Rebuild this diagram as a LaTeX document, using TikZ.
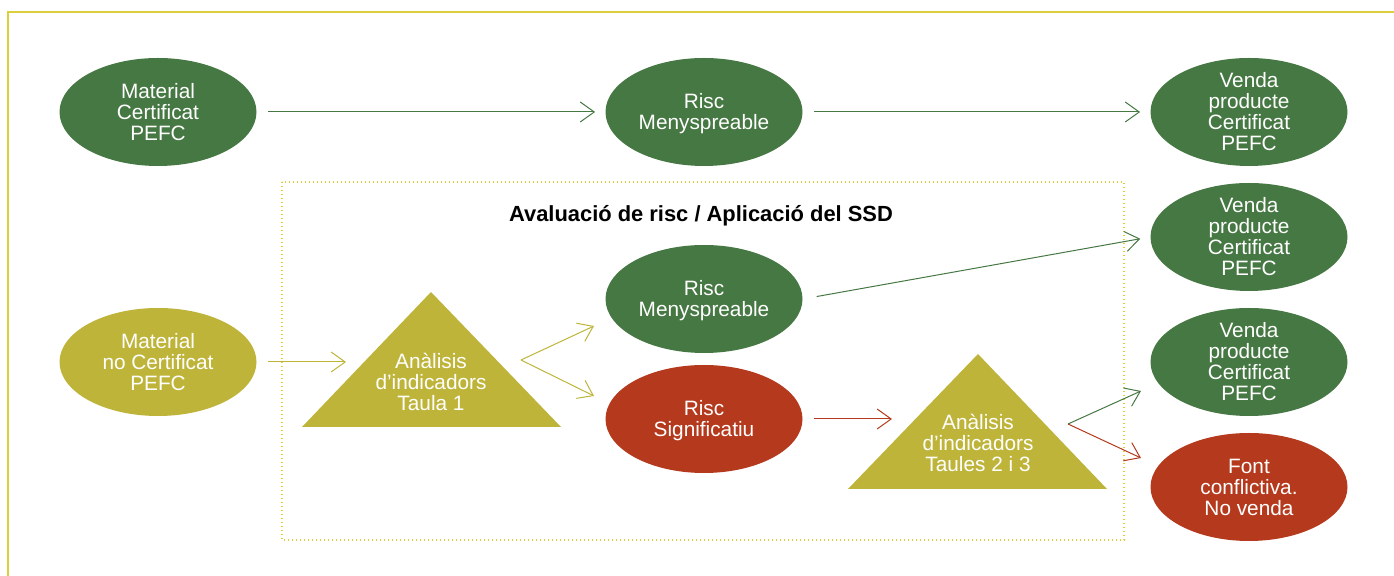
\documentclass[tikz,border=0pt]{standalone}
\usepackage{fontspec}
\setmainfont{Liberation Sans}
\usetikzlibrary{arrows.meta,shapes.geometric}
\definecolor{verd}{HTML}{467843}
\definecolor{oliva}{HTML}{BFB43A}
\definecolor{vermell}{HTML}{B5391C}
\definecolor{groc}{HTML}{DCCF3C}
\begin{document}
\begin{tikzpicture}[x=0.5pt, y=-0.5pt,
  >={Straight Barb[length=7pt,width=10pt]},
  oval/.style={ellipse, minimum width=98.5pt, minimum height=54pt, inner sep=0pt},
  text oval/.style={text=white, align=center, font=\fontsize{10.4}{10.5}\selectfont},
  fletxa/.style={->, line width=0.5pt}]
\useasboundingbox (0,0) rectangle (1394,576);
% marc exterior
\draw[groc, line width=0.6pt] (8,576) -- (8,12) -- (1394,12);

% fila superior: material certificat
\node[oval, fill=verd, label={[text oval]center:Material\\Certificat\\PEFC}] (mc) at (158,112) {};
\node[oval, fill=verd, label={[text oval, yshift=-1pt]center:Risc\\Menyspreable}] (rm1) at (704,112) {};
\node[oval, fill=verd, label={[text oval]center:Venda\\producte\\Certificat\\PEFC}] (v1) at (1249,112) {};
\draw[fletxa, verd, shorten <=5.5pt, shorten >=5pt] (mc) -- (rm1);
\draw[fletxa, verd, shorten <=5.5pt, shorten >=5pt] (rm1) -- (v1);

% avaluacio de risc
\draw[groc, line width=0.7pt, dash pattern=on 0.7pt off 1.3pt] (282,182) rectangle (1124,540);
\node[font=\bfseries\fontsize{10.95}{12}\selectfont] (titol) at (701,216) {Avaluació de risc / Aplicació del SSD};

\node[oval, fill=oliva, label={[text oval]center:Material\\no Certificat\\PEFC}] (mnc) at (158,362) {};
\fill[oliva] (302,427) -- (431,292) -- (561,427) -- cycle;
\node[text oval] (t1) at (431,382) {Anàlisis\\d’indicadors\\Taula 1};
\node[oval, fill=verd, label={[text oval, yshift=-1pt]center:Risc\\Menyspreable}] (rm2) at (704,299) {};
\node[oval, fill=vermell, label={[text oval, yshift=-1pt]center:Risc\\Significatiu}] (rs) at (704,419) {};
\fill[oliva] (848,489) -- (978,354) -- (1107,489) -- cycle;
\node[text oval] (t2) at (978,443) {Anàlisis\\d’indicadors\\Taules 2 i 3};

\node[oval, fill=verd, label={[text oval]center:Venda\\producte\\Certificat\\PEFC}] (v2) at (1249,237) {};
\node[oval, fill=verd, label={[text oval]center:Venda\\producte\\Certificat\\PEFC}] (v3) at (1249,362) {};
\node[oval, fill=vermell, label={[text oval]center:Font\\conflictiva.\\No venda}] (fc) at (1249,487) {};

% punts de les fletxes
\coordinate (t1in) at (346,362);
\coordinate (f1) at (521,360);
\coordinate (rm2in) at (594,326);
\coordinate (rsin) at (594,396);
\coordinate (t2in) at (892,419);
\coordinate (f2) at (1068,424);
\coordinate (v3in) at (1141,391);
\coordinate (fcin) at (1141,458);

\draw[fletxa, oliva, shorten <=5.5pt] (mnc.east) -- (t1in);
\draw[fletxa, oliva] (f1) -- (rm2in);
\draw[fletxa, oliva] (f1) -- (rsin);
\draw[fletxa, verd, shorten <=7pt, shorten >=5pt] (rm2.east) -- (v2.west);
\draw[fletxa, vermell, shorten <=5.5pt] (rs.east) -- (t2in);
\draw[fletxa, verd] (f2) -- (v3in);
\draw[fletxa, vermell] (f2) -- (fcin);
\end{tikzpicture}
\end{document}
